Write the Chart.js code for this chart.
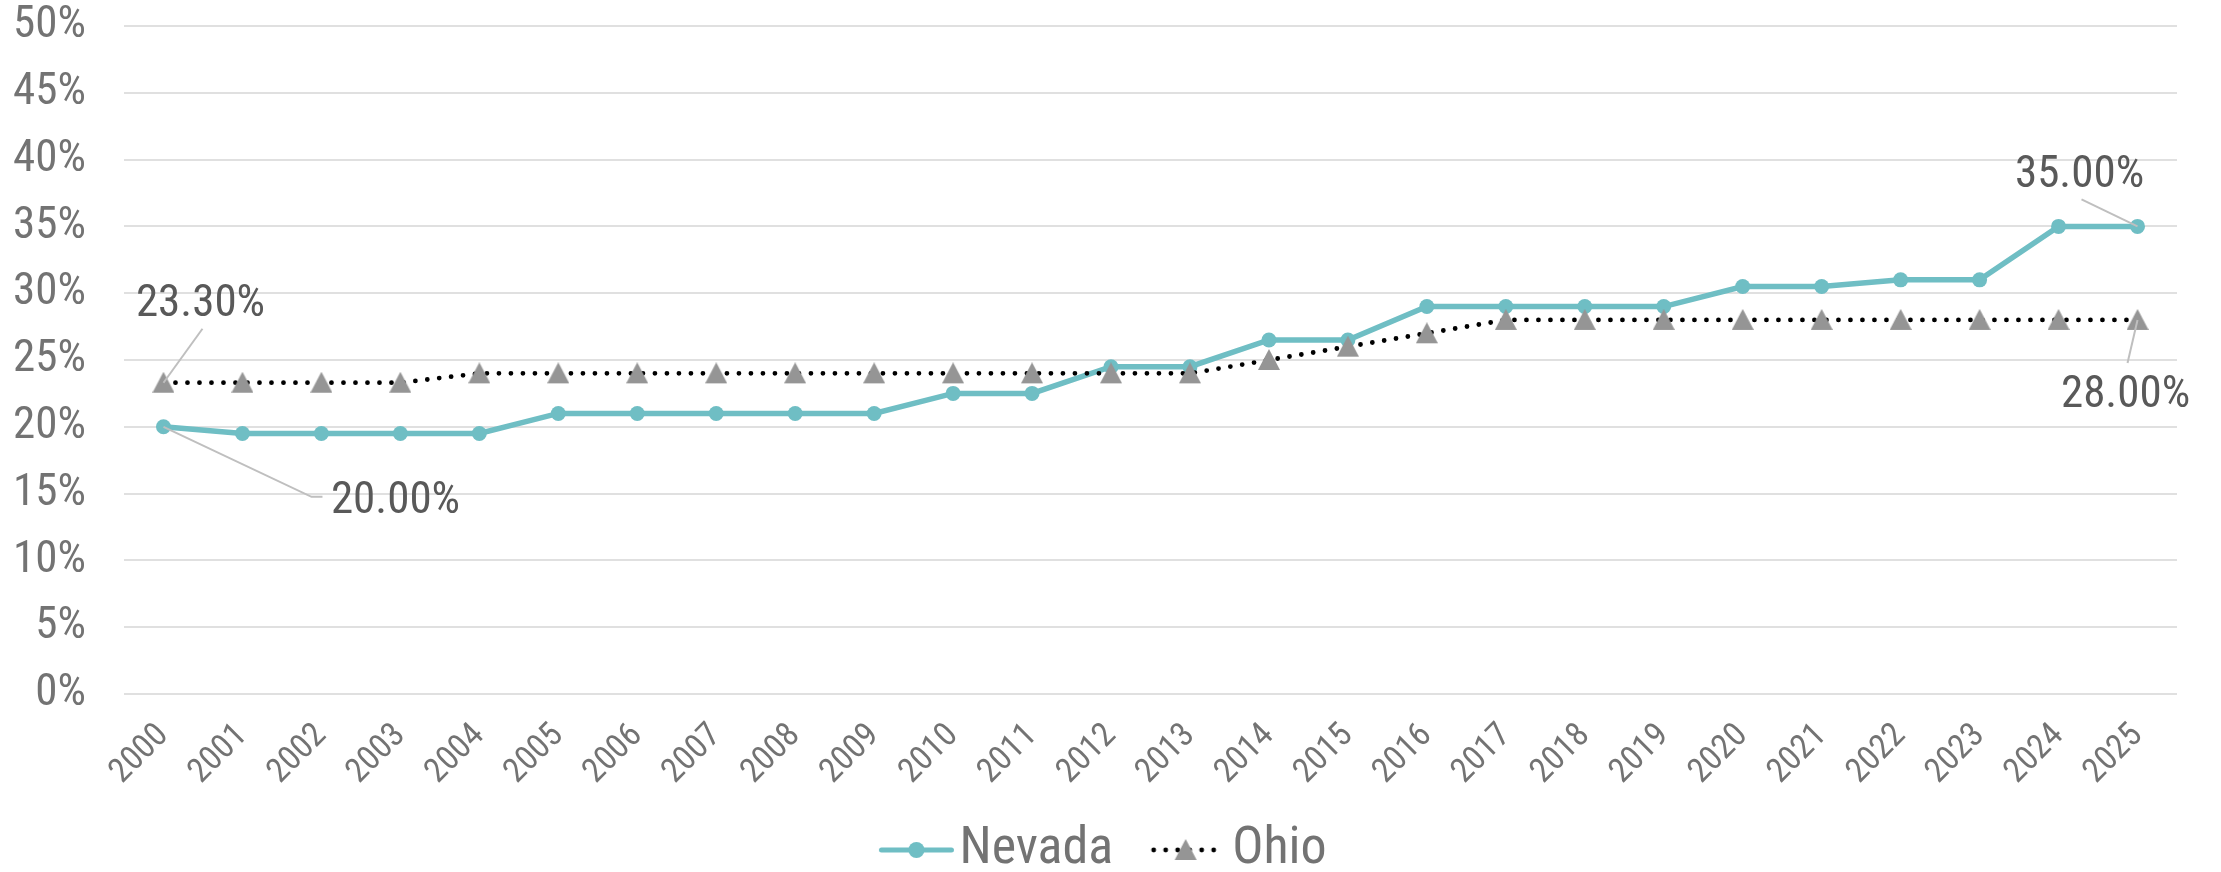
<!DOCTYPE html>
<html>
<head>
<meta charset="utf-8">
<script src="https://cdn.jsdelivr.net/npm/chart.js@4.4.0/dist/chart.umd.min.js"></script>
<style>
  html, body { margin: 0; padding: 0; background: #ffffff; }
  #wrap { width: 2221px; height: 872px; position: relative; }
</style>
</head>
<body>
<div id="wrap"><canvas id="rates"></canvas></div>
<script>
// categories and series
const years = ['2000', '2001', '2002', '2003', '2004', '2005', '2006', '2007', '2008', '2009',
               '2010', '2011', '2012', '2013', '2014', '2015', '2016', '2017', '2018', '2019',
               '2020', '2021', '2022', '2023', '2024', '2025'];
const nevada = [20, 19.5, 19.5, 19.5, 19.5, 21, 21, 21, 21, 21,
                22.5, 22.5, 24.5, 24.5, 26.5, 26.5, 29, 29, 29, 29,
                30.5, 30.5, 31, 31, 35, 35];
const ohio = [23.3, 23.3, 23.3, 23.3, 24, 24, 24, 24, 24, 24,
              24, 24, 24, 24, 25, 26, 27, 28, 28, 28,
              28, 28, 28, 28, 28, 28];
const yMin = 0, yMax = 50, yStep = 5;

const TEAL = '#6fbec4';
const TRI = '#959595';
const FONT = '"Roboto Condensed", "DejaVu Sans Condensed", sans-serif';

// callouts: which point, where the leader goes and where the text sits (offsets from the point)
const callouts = [
  { ds: 1, idx: 0,  path: [[0, 0], [39, -54]],            text: [37, -78] },
  { ds: 0, idx: 0,  path: [[0, 0], [148, 70], [159, 70]], text: [232, 75] },
  { ds: 0, idx: 25, path: [[-56, -27], [0, 0]],           text: [-58, -51] },
  { ds: 1, idx: 25, path: [[0, 0], [-10, 43]],            text: [-12, 76] }
];

// marker images
function triangleMarker() {
  const c = document.createElement('canvas');
  c.width = 22; c.height = 22;
  const g = c.getContext('2d');
  g.fillStyle = TRI;
  g.beginPath();
  g.moveTo(11, 0); g.lineTo(22, 21); g.lineTo(0, 21); g.closePath();
  g.fill();
  return c;
}
const tri = triangleMarker();

// legend samples: drawn right of the image centre so the text sits close
function nevadaSwatch() {
  const c = document.createElement('canvas');
  c.width = 120; c.height = 22;
  const g = c.getContext('2d');
  const cx = 77.5;
  g.strokeStyle = TEAL; g.lineWidth = 5; g.lineCap = 'round';
  g.beginPath(); g.moveTo(cx - 35, 11); g.lineTo(cx + 35, 11); g.stroke();
  g.fillStyle = TEAL;
  g.beginPath(); g.arc(cx, 11, 8, 0, Math.PI * 2); g.fill();
  return c;
}
function ohioSwatch() {
  const c = document.createElement('canvas');
  c.width = 120; c.height = 24;
  const g = c.getContext('2d');
  const cx = 74;
  g.fillStyle = '#000';
  for (let x = cx - 32; x <= cx + 32; x += 12) {
    g.beginPath(); g.arc(x, 12, 2.4, 0, Math.PI * 2); g.fill();
  }
  g.drawImage(tri, cx - 11, 1);
  return c;
}
const swatches = [nevadaSwatch(), ohioSwatch()];

const calloutPlugin = {
  id: 'callouts',
  afterDatasetsDraw(chart) {
    const ctx = chart.ctx;
    ctx.save();
    callouts.forEach(c => {
      const pt = chart.getDatasetMeta(c.ds).data[c.idx];
      const v = chart.data.datasets[c.ds].data[c.idx];
      ctx.strokeStyle = '#bfbfbf';
      ctx.lineWidth = 2;
      ctx.beginPath();
      c.path.forEach((p, k) => {
        if (k === 0) ctx.moveTo(pt.x + p[0], pt.y + p[1]);
        else ctx.lineTo(pt.x + p[0], pt.y + p[1]);
      });
      ctx.stroke();
      ctx.font = '45px ' + FONT;
      ctx.fillStyle = '#595959';
      ctx.textAlign = 'center';
      ctx.textBaseline = 'middle';
      ctx.fillText(v.toFixed(2) + '%', pt.x + c.text[0], pt.y + c.text[1]);
    });
    ctx.restore();
  }
};

const ctx = document.getElementById('rates').getContext('2d');
new Chart(ctx, {
  type: 'line',
  data: {
    labels: years,
    datasets: [
      {
        label: 'Nevada',
        data: nevada,
        borderColor: TEAL,
        backgroundColor: TEAL,
        borderWidth: 5.5,
        pointStyle: 'circle',
        pointRadius: 7.5,
        pointBorderWidth: 0,
        pointBackgroundColor: TEAL,
        tension: 0,
        order: 1
      },
      {
        label: 'Ohio',
        data: ohio,
        borderColor: '#000000',
        borderWidth: 4.8,
        borderDash: [0, 12],
        borderCapStyle: 'round',
        pointStyle: tri,
        pointRadius: 11,
        tension: 0,
        order: 0
      }
    ]
  },
  options: {
    responsive: true,
    maintainAspectRatio: false,
    animation: false,
    layout: { padding: { top: 26, right: 44, left: 14, bottom: 0 } },
    plugins: {
      tooltip: { enabled: false },
      legend: {
        position: 'bottom',
        maxHeight: 72,
        labels: {
          usePointStyle: true,
          pointStyleWidth: 69,
          padding: 24,
          color: '#737373',
          font: { family: FONT, size: 52 },
          generateLabels: chart => chart.data.datasets.map((ds, i) => ({
            text: ds.label,
            pointStyle: swatches[i],
            fontColor: '#737373',
            lineWidth: 0,
            strokeStyle: 'rgba(0,0,0,0)',
            fillStyle: 'rgba(0,0,0,0)',
            hidden: false,
            datasetIndex: i
          }))
        }
      }
    },
    scales: {
      x: {
        offset: true,
        grid: { display: false, drawTicks: false, tickLength: 0 },
        border: { display: false },
        ticks: {
          autoSkip: false,
          minRotation: 45,
          maxRotation: 45,
          padding: 22,
          color: '#737373',
          font: { family: FONT, size: 34 }
        },
        afterFit: s => { s.height = 106; }
      },
      y: {
        min: yMin,
        max: yMax,
        grid: { color: '#e0e0e0', lineWidth: 2, drawTicks: false, tickLength: 0 },
        border: { display: false },
        ticks: {
          stepSize: yStep,
          padding: 38,
          color: '#737373',
          font: { family: FONT, size: 45 },
          callback: v => v + '%'
        },
        // keep the label padding from pushing the plot down
        afterFit: s => { s.width = 110; s.paddingTop = 20; s.paddingBottom = 20; }
      }
    }
  },
  plugins: [calloutPlugin]
});
</script>
</body>
</html>
